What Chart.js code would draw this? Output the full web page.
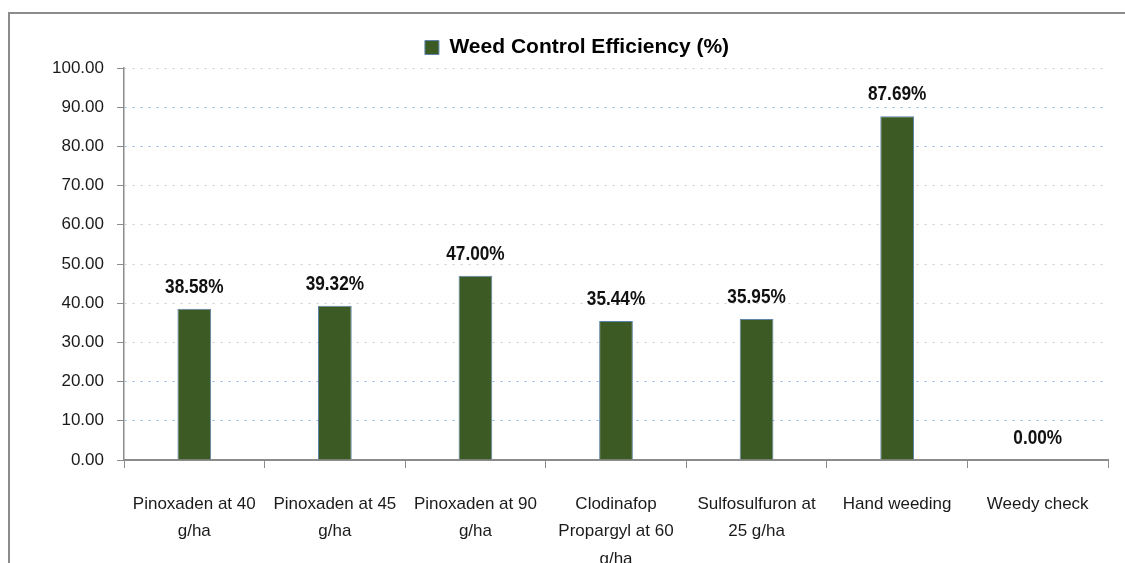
<!DOCTYPE html>
<html>
<head>
<meta charset="utf-8">
<script src="https://cdn.jsdelivr.net/npm/chart.js@4.4.1/dist/chart.umd.min.js"></script>
<style>
    html, body { margin: 0; padding: 0; background: #fff; }
    #wrap { position: relative; width: 1125px; height: 563px; }
    #frame { position: absolute; left: 8px; top: 12px; right: 0; bottom: 0;
             border-left: 2px solid #8c8c8c; border-top: 2px solid #8c8c8c; pointer-events: none; }
    canvas { position: absolute; left: 0; top: 0; }
</style>
</head>
<body>
<div id="wrap">
    <canvas id="wceChart" width="1125" height="563"></canvas>
    <div id="frame"></div>
</div>
<script>
// Data
const categories = [
    ['Pinoxaden at 40', 'g/ha'],
    ['Pinoxaden at 45', 'g/ha'],
    ['Pinoxaden at 90', 'g/ha'],
    ['Clodinafop', 'Propargyl at 60', 'g/ha'],
    ['Sulfosulfuron at', '25 g/ha'],
    'Hand weeding',
    'Weedy check'
];
const wceValues = [38.58, 39.32, 47.00, 35.44, 35.95, 87.69, 0.00];
const seriesName = 'Weed Control Efficiency (%)';
const yTicks = [0, 10, 20, 30, 40, 50, 60, 70, 80, 90, 100];
const blueGridValues = [10, 20, 80, 90];

const SANS = "'Liberation Sans', Arial, sans-serif";

// label angka di atas batang, dipadatkan agar mirip font narrow
const valueLabels = {
    id: 'valueLabels',
    afterDatasetsDraw(chart) {
        const ctx = chart.ctx;
        const meta = chart.getDatasetMeta(0);
        const squeeze = 0.82;
        ctx.save();
        ctx.font = 'bold 21px ' + SANS;
        ctx.fillStyle = '#111';
        ctx.textAlign = 'center';
        ctx.textBaseline = 'middle';
        meta.data.forEach((bar, i) => {
            ctx.save();
            ctx.translate(bar.x, bar.y - 22);
            ctx.scale(squeeze, 1);
            ctx.fillText(wceValues[i].toFixed(2) + '%', 0, 0);
            ctx.restore();
        });
        ctx.restore();
    }
};

new Chart(document.getElementById('wceChart'), {
    type: 'bar',
    data: {
        labels: categories,
        datasets: [{
            label: seriesName,
            data: wceValues,
            backgroundColor: '#3b5a24',
            borderColor: '#5f84aa',
            borderWidth: 1,
            barPercentage: 0.24,
            categoryPercentage: 1.0
        }]
    },
    options: {
        responsive: false,
        animation: false,
        layout: { padding: { left: 46, right: 17, top: 31, bottom: 0 } },
        plugins: {
            legend: {
                position: 'top',
                labels: {
                    font: { size: 21, weight: 'bold', family: SANS },
                    color: '#000',
                    boxWidth: 14,
                    boxHeight: 14,
                    padding: 6
                }
            },
            tooltip: { enabled: false }
        },
        scales: {
            y: {
                min: 0,
                max: 100,
                afterBuildTicks: (scale) => {
                    scale.ticks = yTicks.map(v => ({ value: v }));
                },
                afterFit: (scale) => { scale.width = 78; },
                ticks: {
                    font: { size: 17, family: SANS },
                    color: '#1a1a1a',
                    padding: 13,
                    callback: (v) => Number(v).toFixed(2)
                },
                border: { color: '#8c8c8c', width: 1.5, dash: [2, 6] },
                grid: {
                    color: (c) => blueGridValues.includes(c.tick && c.tick.value) ? '#86b3df' : '#cfcfcf',
                    lineWidth: 1,
                    tickColor: '#8c8c8c',
                    tickLength: 7,
                    tickBorderDash: [],
                    drawTicks: true
                }
            },
            x: {
                afterFit: (scale) => { scale.height = 103; },
                ticks: {
                    font: { size: 17, family: SANS, lineHeight: 1.6 },
                    color: '#1a1a1a',
                    padding: 23,
                    maxRotation: 0,
                    autoSkip: false
                },
                border: { color: '#8c8c8c', width: 2 },
                grid: {
                    offset: true,
                    drawOnChartArea: false,
                    color: '#8c8c8c',
                    tickLength: 8
                }
            }
        }
    },
    plugins: [valueLabels]
});
</script>
</body>
</html>
